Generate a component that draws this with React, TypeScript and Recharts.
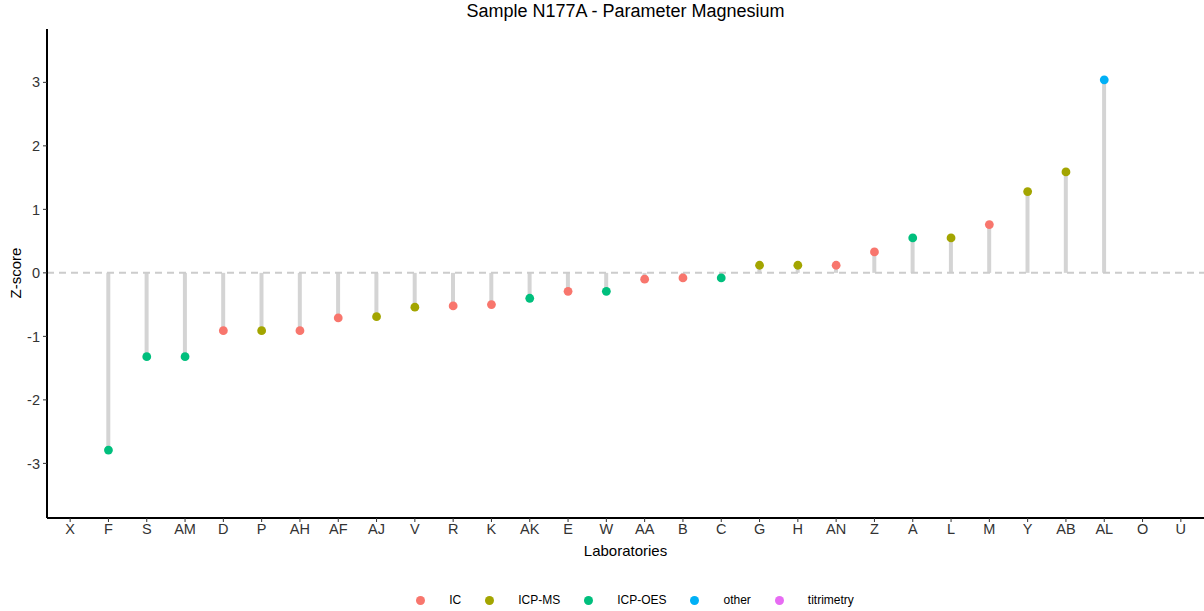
import * as React from "react";
import {
  ComposedChart,
  Bar,
  Scatter,
  XAxis,
  YAxis,
  ReferenceLine,
} from "recharts";

// laboratories in plotted order, z-scores and measurement method
const labs = [
  "X", "F", "S", "AM", "D", "P", "AH", "AF", "AJ", "V", "R", "K", "AK", "E", "W",
  "AA", "B", "C", "G", "H", "AN", "Z", "A", "L", "M", "Y", "AB", "AL", "O", "U",
];

const zScores: (number | null)[] = [
  null, -2.79, -1.32, -1.32, -0.91, -0.91, -0.91, -0.71, -0.69, -0.54, -0.52, -0.5, -0.4,
  -0.29, -0.29, -0.1, -0.08, -0.08, 0.12, 0.12, 0.12, 0.33, 0.55, 0.55, 0.76, 1.28, 1.59,
  3.04, null, null,
];

const methods: (string | null)[] = [
  null, "ICP-OES", "ICP-OES", "ICP-OES", "IC", "ICP-MS", "IC", "IC", "ICP-MS", "ICP-MS",
  "IC", "IC", "ICP-OES", "IC", "ICP-OES", "IC", "IC", "ICP-OES", "ICP-MS", "ICP-MS", "IC",
  "IC", "ICP-OES", "ICP-MS", "IC", "ICP-MS", "ICP-MS", "other", null, null,
];

const methodNames = ["IC", "ICP-MS", "ICP-OES", "other", "titrimetry"];
const methodColors = ["#F8766D", "#A3A500", "#00BF7D", "#00B0F6", "#E76BF3"];

const yTicks = [-3, -2, -1, 0, 1, 2, 3];

const FONT = '"Liberation Sans", Arial, sans-serif';

const colorOf = (m: string | null) =>
  m ? methodColors[methodNames.indexOf(m)] : "transparent";

const data = labs.map((lab, i) => ({
  lab,
  z: zScores[i],
  method: methods[i],
}));

const Dot = (props: any) => {
  const { cx, cy, payload } = props;
  if (payload == null || payload.z == null || cx == null || cy == null) return <g />;
  return <circle cx={cx} cy={cy} r={4.4} fill={colorOf(payload.method)} />;
};

export default function App() {
  return (
    <div
      style={{
        position: "absolute",
        left: 0,
        top: 0,
        width: 1204,
        height: 611,
        background: "#fff",
        fontFamily: FONT,
      }}
    >
      <div
        style={{
          position: "absolute",
          top: 1,
          left: 47,
          width: 1157,
          textAlign: "center",
          fontSize: 18,
          color: "#000",
        }}
      >
        Sample N177A - Parameter Magnesium
      </div>
      <div
        style={{
          position: "absolute",
          left: 15,
          top: 273,
          transform: "translate(-50%, -50%) rotate(-90deg)",
          fontSize: 15,
          color: "#000",
          whiteSpace: "nowrap",
        }}
      >
        Z-score
      </div>

      <ComposedChart
        width={1204}
        height={611}
        data={data}
        margin={{ top: 29, right: 0, bottom: 52, left: 0 }}
      >
        <XAxis
          dataKey="lab"
          type="category"
          height={41}
          padding={{ left: 4, right: 4 }}
          axisLine={{ stroke: "#000", strokeWidth: 2 }}
          tickLine={{ stroke: "#333" }}
          tickSize={4}
          tickMargin={2}
          interval={0}
          tick={{ fontSize: 14.5, fill: "#333", fontFamily: FONT }}
          label={{
            value: "Laboratories",
            position: "insideBottom",
            offset: 3,
            style: { fontSize: 15, fill: "#000", fontFamily: FONT },
          }}
        />
        <YAxis
          type="number"
          width={47}
          domain={[-3.86, 3.84]}
          ticks={yTicks}
          allowDataOverflow
          axisLine={{ stroke: "#000", strokeWidth: 2 }}
          tickLine={{ stroke: "#333" }}
          tickSize={4}
          tickMargin={3}
          tick={{ fontSize: 14.5, fill: "#333", fontFamily: FONT }}
        />
        <ReferenceLine
          y={0}
          stroke="#CCCCCC"
          strokeWidth={2}
          strokeDasharray="7 5"
        />
        <Bar dataKey="z" barSize={4} fill="#D4D4D4" isAnimationActive={false} />
        <Scatter dataKey="z" shape={Dot} isAnimationActive={false} />
      </ComposedChart>

      {/* legend */}
      <div
        style={{
          position: "absolute",
          top: 593,
          left: 0,
          width: 1204,
          display: "flex",
          justifyContent: "center",
          paddingLeft: 66,
          boxSizing: "border-box",
          fontSize: 12,
          color: "#000",
        }}
      >
        {methodNames.map((name, i) => (
          <div
            key={name}
            style={{
              display: "flex",
              alignItems: "center",
              marginRight: i === methodNames.length - 1 ? 0 : 24,
            }}
          >
            <span
              style={{
                display: "inline-block",
                width: 9,
                height: 9,
                borderRadius: "50%",
                background: methodColors[i],
                marginRight: 24,
              }}
            />
            <span>{name}</span>
          </div>
        ))}
      </div>
    </div>
  );
}
